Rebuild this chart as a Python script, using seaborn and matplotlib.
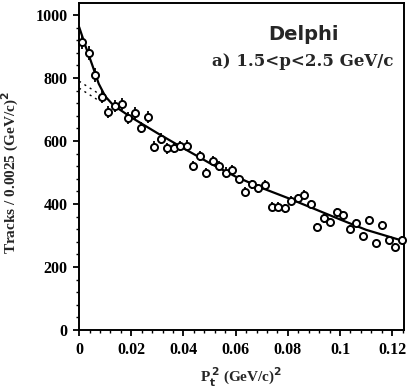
import numpy as np
import pandas as pd
import matplotlib
matplotlib.use("Agg")
import matplotlib.pyplot as plt
from matplotlib.ticker import MultipleLocator
import seaborn as sns

# ---- data ----
pt2 = [0.00125, 0.00375, 0.00625, 0.00875, 0.01125, 0.01375, 0.01625, 0.01875,
       0.02125, 0.02375, 0.02625, 0.02875, 0.03125, 0.03375, 0.03625, 0.03875,
       0.04125, 0.04375, 0.04625, 0.04875, 0.05125, 0.05375, 0.05625, 0.05875,
       0.06125, 0.06375, 0.06625, 0.06875, 0.07125, 0.07375, 0.07625, 0.07875,
       0.08125, 0.08375, 0.08625, 0.08875, 0.09125, 0.09375, 0.09625, 0.09875,
       0.10125, 0.10375, 0.10625, 0.10875, 0.11125, 0.11375, 0.11625, 0.11875,
       0.12125, 0.12375]
tracks = [915, 880, 810, 741, 691, 711, 717, 672, 688, 642, 677, 582, 608, 577,
          579, 584, 585, 520, 552, 499, 537, 520, 500, 507, 478, 439, 462, 450,
          460, 392, 392, 386, 411, 418, 429, 400, 326, 354, 344, 373, 365, 320,
          339, 297, 349, 275, 333, 286, 263, 286]
errors = [22, 22, 21, 20, 19, 20, 20, 19, 19, 18, 19, 18, 18, 17, 17, 17, 17, 16,
          16, 16, 16, 16, 16, 16, 15, 15, 15, 15, 15, 14, 14, 14, 14, 14, 14, 14,
          13, 13, 13, 13, 13, 13, 13, 12, 13, 12, 13, 12, 12, 12]

fit_x = [0.0, 0.0025, 0.005, 0.0075, 0.01, 0.0125, 0.015, 0.02, 0.03, 0.04,
         0.05, 0.06, 0.07, 0.08, 0.09, 0.10, 0.11, 0.1245]
fit_y = [962, 900, 842, 782, 742, 719, 703, 675, 625, 577, 530, 487, 451, 419,
         385, 351, 318, 282]

bg1_x = [0.0, 0.011]
bg1_y = [790, 732]
bg2_x = [0.0, 0.008]
bg2_y = [768, 726]

xticks = [0, 0.02, 0.04, 0.06, 0.08, 0.1, 0.12]
xticklabels = ["0", "0.02", "0.04", "0.06", "0.08", "0.1", "0.12"]
yticks = [0, 200, 400, 600, 800, 1000]

# ---- plotting ----
sns.set_theme(style="ticks")
plt.rcParams['font.family'] = ['Liberation Serif', 'DejaVu Serif']
plt.rcParams['font.weight'] = 'bold'

fig = plt.figure(figsize=(4.08, 3.90), dpi=100)
ax = fig.add_axes([0.194, 0.154, 0.796, 0.838])

df = pd.DataFrame({"x": pt2, "y": tracks, "e": errors})
ax.errorbar(df["x"], df["y"], yerr=df["e"], fmt="none", ecolor="black",
            elinewidth=1.3, capsize=0, zorder=2)

sns.lineplot(x=fit_x, y=fit_y, ax=ax, color="black", linewidth=1.6,
             sort=False, estimator=None, zorder=3)
sns.lineplot(x=bg1_x, y=bg1_y, ax=ax, color="black", linewidth=1.0,
             linestyle=(0, (1.5, 3)), sort=False, estimator=None, zorder=3)
sns.lineplot(x=bg2_x, y=bg2_y, ax=ax, color="black", linewidth=1.0,
             linestyle=(0, (1.5, 3)), sort=False, estimator=None, zorder=3)

sns.scatterplot(data=df, x="x", y="y", ax=ax, marker="o", s=26,
                facecolor="white", edgecolor="black", linewidth=1.4,
                zorder=4, clip_on=False)

ax.set_xlim(0, 0.1245)
ax.set_ylim(0, 1038)
ax.set_xticks(xticks)
ax.set_xticklabels(xticklabels)
ax.set_yticks(yticks)
ax.xaxis.set_minor_locator(MultipleLocator(0.004))
ax.yaxis.set_minor_locator(MultipleLocator(40))

ax.tick_params(axis="both", which="major", direction="out", length=4.5,
               width=1.3, labelsize=11.5, colors="black", pad=4)
ax.tick_params(axis="both", which="minor", direction="out", length=2.5,
               width=1.0, colors="black")
for lab in ax.get_xticklabels() + ax.get_yticklabels():
    lab.set_fontweight("bold")

for sp in ax.spines.values():
    sp.set_visible(True)
    sp.set_color("black")
    sp.set_linewidth(1.4)

ax.set_xlabel(r"P$_{\mathbf{t}}^{\,\mathbf{2}}$ (GeV/c)$^{\mathbf{2}}$",
              fontsize=11, fontweight="bold", labelpad=6)
ax.set_ylabel(r"Tracks / 0.0025 (GeV/c)$^{\mathbf{2}}$", fontsize=11,
              fontweight="bold")
ax.yaxis.set_label_coords(-0.18, 0.48)

ax.text(0.69, 0.905, "Delphi", transform=ax.transAxes, ha="center",
        va="center", fontsize=14, fontweight="bold", family="DejaVu Sans")
ax.text(0.69, 0.82, "a) 1.5<p<2.5 GeV/c", transform=ax.transAxes,
        ha="center", va="center", fontsize=12, fontweight="bold",
        family="DejaVu Serif")

fig.savefig("out.png", dpi=100, facecolor="white")
